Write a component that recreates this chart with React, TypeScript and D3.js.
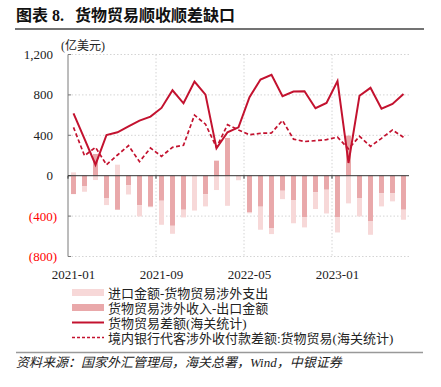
import React from "react";
import * as d3 from "d3";

const months = [
  "2021-01","2021-02","2021-03","2021-04","2021-05","2021-06","2021-07","2021-08",
  "2021-09","2021-10","2021-11","2021-12","2022-01","2022-02","2022-03","2022-04",
  "2022-05","2022-06","2022-07","2022-08","2022-09","2022-10","2022-11","2022-12",
  "2023-01","2023-02","2023-03","2023-04","2023-05","2023-06","2023-07",
];
const xTickLabels = ["2021-01", "2021-09", "2022-05", "2023-01"];
const yTicks = [-800, -400, 0, 400, 800, 1200];

// 货物贸易差额(海关统计)
const customsBalance = [618, 364, 109, 403, 430, 489, 545, 585, 671, 846, 717, 932, 803, 271, 430, 479, 777, 952, 998, 787, 833, 836, 668, 721, 936, 126, 792, 870, 663, 710, 808];
// 境内银行代客涉外收付款差额:货物贸易(海关统计)
const bankBalance = [479, 198, 281, 109, 205, 298, 139, 274, 192, 281, 301, 600, 510, 280, 505, 453, 405, 420, 423, 547, 362, 338, 347, 357, 382, 266, 390, 291, 370, 453, 380];
// 货物贸易涉外收入-出口金额
const receiptMinusExport = [-182, -106, 215, -225, -337, -93, -291, -307, -248, -496, -337, -5, -182, 149, 374, 0, -364, -307, -522, -149, -245, -413, -165, -139, -413, 397, -225, -453, -175, -175, -337];
// 进口金额-货物贸易涉外支出
const importMinusPayment = [33, -53, -43, -66, 109, -93, -112, -5, -238, -79, -76, -340, -122, -142, -298, -45, -8, -228, -56, -83, -226, -99, -165, -235, -149, -274, -178, -132, -129, -79, -99];

const legendLabels = [
  "进口金额-货物贸易涉外支出",
  "货物贸易涉外收入-出口金额",
  "货物贸易差额(海关统计)",
  "境内银行代客涉外收付款差额:货物贸易(海关统计)",
];

const RED = "#c3122f";
const MED = "#e9a8aa";
const LIGHT = "#f7d8d8";
const SERIF = "'Liberation Serif', 'Times New Roman', 'Noto Sans CJK SC', serif";
const CJK = "'Liberation Serif', 'Noto Sans CJK SC', serif";

export default function App() {
  const W = 441, H = 387;
  const x0 = 68, x1 = 409;
  const x = d3.scaleBand<string>().domain(months).range([x0, x1]).paddingInner(0.55).paddingOuter(0.275);
  const y = d3.scaleLinear().domain([-800, 1200]).range([256.5, 54.5]);
  const cx = (m: string) => (x(m) as number) + x.bandwidth() / 2;
  const step = x.step();
  const bandStart = (m: string) => x0 + months.indexOf(m) * step;

  const rows = months.map((m, i) => ({ m, B: receiptMinusExport[i], A: importMinusPayment[i] }));
  const stack = d3.stack<any>().keys(["B", "A"]).offset(d3.stackOffsetDiverging);
  const series = stack(rows);
  const colors: Record<string, string> = { B: MED, A: LIGHT };

  const lineGen = d3.line<number>().x((_, i) => cx(months[i])).y((v) => y(v));

  const legendY = [292.5, 307.5, 322.5, 337.5];

  return (
    <svg width={W} height={H} style={{ position: "absolute", left: 0, top: 0, background: "#fff" }}>
      {/* title */}
      <text x={16} y={21} fontFamily={CJK} fontWeight="bold" fontSize={16} fill="#111">图表 8.</text>
      <text x={75} y={21} fontFamily={CJK} fontWeight="bold" fontSize={16} fill="#111">货物贸易顺收顺差缺口</text>
      <line x1={15} x2={424} y1={29} y2={29} stroke="#444" strokeWidth={1.6} />
      <text x={61} y={49.5} fontFamily={CJK} fontSize={12} fill="#222">(亿美元)</text>

      {/* gridlines */}
      {yTicks.filter((t) => t !== 0).map((t) => (
        <line key={t} x1={x0} x2={x1} y1={y(t)} y2={y(t)} stroke="#d4d4d4" strokeWidth={1} strokeDasharray="1.5,2" />
      ))}
      {xTickLabels.slice(1).map((m) => (
        <line key={m} x1={bandStart(m)} x2={bandStart(m)} y1={y(1200)} y2={y(-800)} stroke="#d4d4d4" strokeWidth={1} strokeDasharray="1.5,2" />
      ))}

      {/* bars */}
      {series.map((s) => (
        <g key={s.key} fill={colors[s.key]}>
          {s.map((d, i) => {
            const top = y(Math.max(d[0], d[1]));
            const bot = y(Math.min(d[0], d[1]));
            return <rect key={i} x={x(months[i])} y={top} width={x.bandwidth()} height={Math.max(0, bot - top)} />;
          })}
        </g>
      ))}

      {/* y axis */}
      <line x1={x0} x2={x0} y1={y(1200)} y2={y(-800)} stroke="#7a7a7a" strokeWidth={1} />
      {yTicks.map((t) => (
        <g key={t}>
          <line x1={x0} x2={x0 + 3} y1={y(t)} y2={y(t)} stroke="#7a7a7a" />
          <text
            x={t < 0 ? 57 : 53}
            y={y(t) + 4.5}
            textAnchor="end"
            fontFamily={SERIF}
            fontSize={13}
            fill={t < 0 ? "#ff0000" : "#222"}
          >
            {t < 0 ? `(${d3.format(",")(-t)})` : d3.format(",")(t)}
          </text>
        </g>
      ))}

      {/* zero axis */}
      <line x1={x0} x2={x1} y1={y(0)} y2={y(0)} stroke="#333" strokeWidth={1} />
      {xTickLabels.map((m) => (
        <g key={m}>
          <line x1={bandStart(m)} x2={bandStart(m)} y1={y(0)} y2={y(0) + 3} stroke="#333" />
          <text x={cx(m)} y={279} textAnchor="middle" fontFamily={SERIF} fontSize={13} fill="#222">{m}</text>
        </g>
      ))}

      {/* lines */}
      <path d={lineGen(customsBalance) || ""} fill="none" stroke={RED} strokeWidth={2} strokeLinejoin="miter" />
      <path d={lineGen(bankBalance) || ""} fill="none" stroke={RED} strokeWidth={1.7} strokeDasharray="4,2.5" />

      {/* legend */}
      <rect x={72} y={legendY[0] - 3.5} width={32} height={7} fill={LIGHT} />
      <rect x={72} y={legendY[1] - 3.5} width={32} height={7} fill={MED} />
      <line x1={72} x2={104} y1={legendY[2]} y2={legendY[2]} stroke={RED} strokeWidth={2} />
      <line x1={72} x2={104} y1={legendY[3]} y2={legendY[3]} stroke={RED} strokeWidth={1.7} strokeDasharray="3,2" />
      {legendLabels.map((l, i) => (
        <text key={l} x={108} y={legendY[i] + 5} fontFamily={CJK} fontSize={13} fill="#222">{l}</text>
      ))}

      {/* source */}
      <line x1={16} x2={423} y1={352.5} y2={352.5} stroke="#999" strokeWidth={1.5} />
      <text x={16} y={367} fontFamily={CJK} fontSize={13} fontStyle="italic" fill="#222">
        资料来源：国家外汇管理局，海关总署，Wind，中银证券
      </text>
    </svg>
  );
}
